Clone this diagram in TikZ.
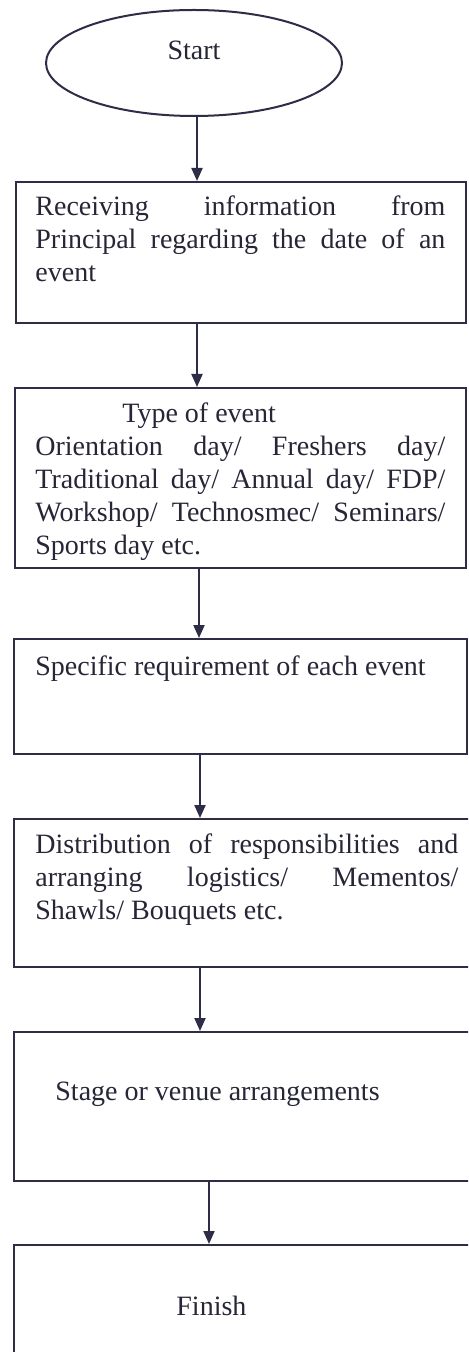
\documentclass[tikz,border=0pt]{standalone}
\usepackage{fontspec}
\setmainfont{Liberation Serif}
\usetikzlibrary{arrows.meta,shapes.geometric}
\definecolor{lc}{RGB}{45,45,72}
\definecolor{tc}{RGB}{38,38,55}
\hyphenpenalty=10000
\exhyphenpenalty=10000
\newcommand{\tp}{\noindent\rule{0pt}{10pt}}
\tikzset{
  box/.style={draw=lc, line width=1pt, rectangle, inner sep=0pt, anchor=north west},
  oval/.style={draw=lc, line width=1pt, ellipse, inner sep=0pt, minimum width=148pt, minimum height=53pt},
  txt/.style={inner sep=0pt, anchor=north west, text=tc, font=\fontsize{14}{16.5}\selectfont, align=justify},
  lbl/.style={inner sep=0pt, text=tc, font=\fontsize{14}{16.5}\selectfont},
  arr/.style={draw=lc, line width=1pt, -{Triangle[width=5.5pt,length=6.5pt]}}
}
\begin{document}
\begin{tikzpicture}[x=0.5pt,y=-0.5pt]
\useasboundingbox (0,0) rectangle (468,1352);
\clip (0,0) rectangle (468,1352);
\fill[white] (0,0) rectangle (468,1352);

% start
\node[oval] (start) at (194,63) {};
\node[lbl, anchor=base] (starttxt) at (194,60) {Start};

% boxes
\node[box, minimum width=225pt, minimum height=70.5pt] (b1) at (15,181) {};
\node[box, minimum width=225.5pt, minimum height=90pt] (b2) at (14,387) {};
\node[box, minimum width=226.5pt, minimum height=57.5pt] (b3) at (13,638) {};
\node[box, minimum width=231pt, minimum height=74pt] (b4) at (13,818) {};
\node[box, minimum width=231pt, minimum height=74.5pt] (b5) at (13,1031) {};
\node[box, minimum width=231pt, minimum height=70pt] (b6) at (13,1244) {};

% texts
\node[txt, text width=205pt] (t1) at (35,195) {\tp Receiving information from\linebreak Principal regarding the date of an\linebreak event};
\node[txt, text width=205pt] (t2) at (35,402) {\tp\hspace*{43.5pt}Type of event\newline Orientation day/ Freshers day/\linebreak Traditional day/ Annual day/ FDP/\linebreak Workshop/ Technosmec/ Seminars/\linebreak Sports day etc.};
\node[lbl, anchor=base west] (t3) at (35,675) {Specific requirement of each event};
\node[txt, text width=211.5pt] (t4) at (35,833) {\tp Distribution of responsibilities and\linebreak arranging logistics/ Mementos/\linebreak Shawls/ Bouquets etc.};
\node[lbl, anchor=base west] (t5) at (55,1100) {Stage or venue arrangements};
\node[lbl, anchor=base west] (t6) at (176,1315) {Finish};

% connectors
\draw[arr] (197,0 |- start.south) -- (197,0 |- b1.north);
\draw[arr] (197,0 |- b1.south) -- (197,0 |- b2.north);
\draw[arr] (199,0 |- b2.south) -- (199,0 |- b3.north);
\draw[arr] (200,0 |- b3.south) -- (200,0 |- b4.north);
\draw[arr] (200,0 |- b4.south) -- (200,0 |- b5.north);
\draw[arr] (209,0 |- b5.south) -- (209,0 |- b6.north);
\end{tikzpicture}
\end{document}
